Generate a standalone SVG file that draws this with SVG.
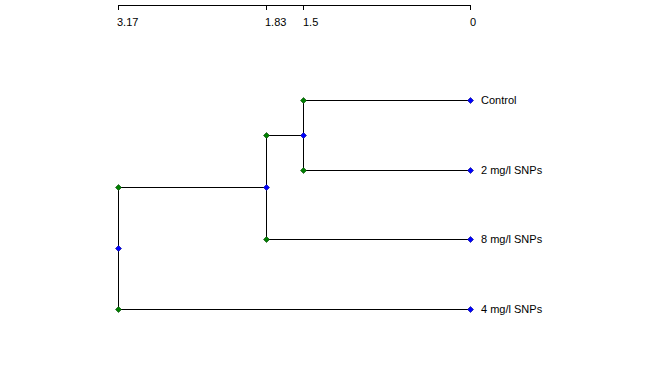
<svg xmlns="http://www.w3.org/2000/svg" width="668" height="374" viewBox="0 0 668 374">
<style>
.ln{stroke:#000;stroke-width:1;fill:none}
.t{font-family:"Liberation Sans",Arial,sans-serif;font-size:11px;fill:#000}
.g{fill:#008000;stroke:#004000;stroke-width:0.6}
.b{fill:#0000ff;stroke:#000080;stroke-width:0.6}
</style>
<defs>
<path id="d" d="M0,-3 L3,0 L0,3 L-3,0 Z"/>
</defs>
<rect width="668" height="374" fill="#fff"/>
<g id="axis">
<path class="ln" d="M118,5.5 H470.5 M118.5,5 V10 M266.5,5 V10 M303.5,5 V10 M470.5,5 V10"/>
<text class="t" x="117" y="26">3.17</text>
<text class="t" x="265" y="26">1.83</text>
<text class="t" x="303" y="26">1.5</text>
<text class="t" x="470" y="26">0</text>
</g>
<g id="connectors">
<path class="ln" d="M303.5,100.5 H470.5 M303.5,170.5 H470.5 M303.5,100 V171 M266.5,135.5 H303.5 M266.5,239.5 H470.5 M266.5,135 V240 M118.5,187.5 H266.5 M118.5,309.5 H470.5 M118.5,187 V310"/>
</g>
<g id="n-control"><use href="#d" class="b" x="470.5" y="100.5"/><text class="t" x="481" y="104">Control</text></g>
<g id="n-2mg"><use href="#d" class="b" x="470.5" y="170.5"/><text class="t" x="481" y="174">2 mg/l SNPs</text></g>
<g id="n-8mg"><use href="#d" class="b" x="470.5" y="239.5"/><text class="t" x="481" y="243">8 mg/l SNPs</text></g>
<g id="n-4mg"><use href="#d" class="b" x="470.5" y="309.5"/><text class="t" x="481" y="313">4 mg/l SNPs</text></g>
<g id="j1"><use href="#d" class="g" x="303.5" y="100.5"/><use href="#d" class="g" x="303.5" y="170.5"/><use href="#d" class="b" x="303.5" y="135.5"/></g>
<g id="j2"><use href="#d" class="g" x="266.5" y="135.5"/><use href="#d" class="g" x="266.5" y="239.5"/><use href="#d" class="b" x="266.5" y="187.5"/></g>
<g id="j3"><use href="#d" class="g" x="118.5" y="187.5"/><use href="#d" class="g" x="118.5" y="309.5"/><use href="#d" class="b" x="118.5" y="248.5"/></g>
</svg>
